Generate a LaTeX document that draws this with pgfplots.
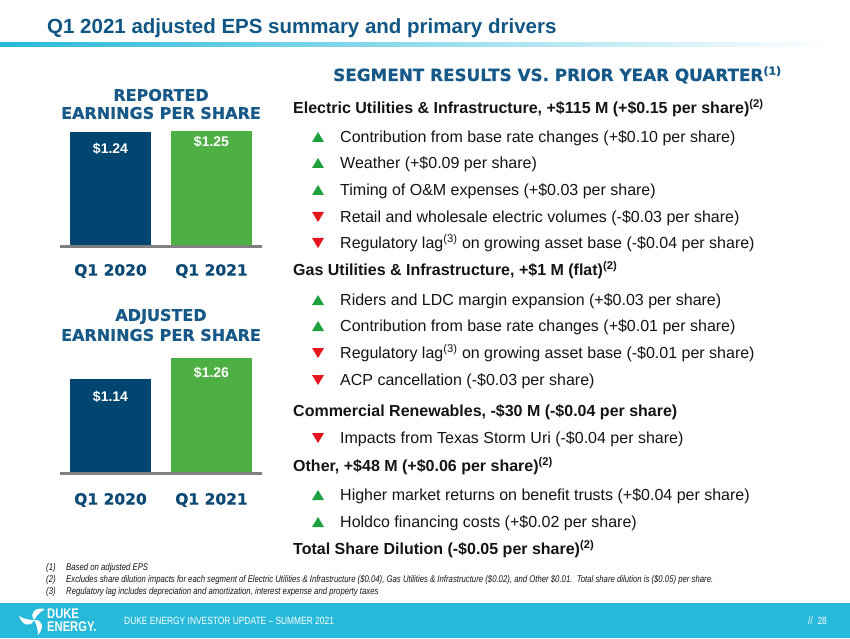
\documentclass[border=0pt]{standalone}
\usepackage{fontspec}
\setmainfont{Liberation Sans}
\newfontfamily\heavy[BoldFeatures={FakeBold=0.6}]{DejaVu Sans}
\newfontfamily\narrow[FakeStretch=0.8]{Liberation Sans}
\usepackage{pgfplots}
\pgfplotsset{compat=1.18}

\definecolor{titleblue}{RGB}{16,86,132}
\definecolor{hdrblue}{RGB}{22,88,136}
\definecolor{catblue}{RGB}{12,74,117}
\definecolor{barblue}{RGB}{0,70,112}
\definecolor{bargreen}{RGB}{78,176,68}
\definecolor{cyanband}{RGB}{38,185,218}
\definecolor{upgreen}{RGB}{30,160,60}
\definecolor{downred}{RGB}{230,20,30}
\definecolor{basegray}{RGB}{128,128,128}
\definecolor{body}{RGB}{20,20,20}

% py = pixel row of the text centre, counted from the top
\newcommand\hd[2]{\node[anchor=base west, inner sep=0, text=body,
  font=\bfseries\fontsize{16}{19}\selectfont] at (293,{638-#1-5.7}) {#2};}
\newcommand\bl[2]{\node[anchor=base west, inner sep=0, text=body,
  font=\fontsize{16}{19}\selectfont] at (340,{638-#1-5.7}) {#2};}
\newcommand\up[1]{\fill[upgreen] (312,{638-#1-5}) -- (324,{638-#1-5}) -- (318,{638-#1+5}) -- cycle;}
\newcommand\dn[1]{\fill[downred] (312,{638-#1+5}) -- (324,{638-#1+5}) -- (318,{638-#1-5}) -- cycle;}
\newcommand\fn[1]{\textsuperscript{(#1)}}

\pgfplotsset{
  eps/.style={
    scale only axis, anchor=south west, width=202pt,
    xmin=-0.5, xmax=1.5, ybar, bar width=81pt, bar shift=0pt,
    hide axis, clip=false},
}
\tikzset{
  val/.style={text=white, font=\bfseries\fontsize{14}{14}\selectfont},
  cat/.style={text=catblue, font=\heavy\bfseries\fontsize{15.5}{18}\selectfont},
}

\begin{document}
\begin{tikzpicture}[x=1pt, y=1pt]
\path[use as bounding box] (0,0) rectangle (850,638);
\fill[white] (0,0) rectangle (850,638);

% title and rule
\node[anchor=base west, inner sep=0, text=titleblue,
  font=\bfseries\fontsize{20.5}{24}\selectfont] at (47,604)
  {Q1 2021 adjusted EPS summary and primary drivers};
\shade[left color=cyanband, middle color=cyanband!45, right color=white]
  (0,591) rectangle (830,595);

% reported EPS
\node[align=center, text=hdrblue, font=\heavy\bfseries\fontsize{16}{18}\selectfont]
  at (161,534) {REPORTED\\EARNINGS PER SHARE};
\begin{axis}[eps, at={(60pt,392pt)}, height=128.8pt, ymin=0, ymax=1.4]
\addplot[fill=barblue, draw=none] coordinates {(0,1.24)};
\addplot[fill=bargreen, draw=none] coordinates {(1,1.25)};
\draw[basegray, line width=3pt] (rel axis cs:0,0) -- (rel axis cs:1,0);
\node[val] at (axis cs:0,1.24) [yshift=-17pt] {\$1.24};
\node[val] at (axis cs:1,1.25) [yshift=-11pt] {\$1.25};
\node[cat] at (axis cs:0,0) [yshift=-25pt] {Q1 2020};
\node[cat] at (axis cs:1,0) [yshift=-25pt] {Q1 2021};
\end{axis}

% adjusted EPS
\node[align=center, text=hdrblue, font=\heavy\bfseries\fontsize{16}{20}\selectfont]
  at (161,313) {ADJUSTED\\EARNINGS PER SHARE};
\begin{axis}[eps, at={(60pt,165pt)}, height=129.5pt, ymin=0.6, ymax=1.34]
\addplot[fill=barblue, draw=none] coordinates {(0,1.14)};
\addplot[fill=bargreen, draw=none] coordinates {(1,1.26)};
\draw[basegray, line width=3pt] (rel axis cs:0,0) -- (rel axis cs:1,0);
\node[val] at (axis cs:0,1.14) [yshift=-18pt] {\$1.14};
\node[val] at (axis cs:1,1.26) [yshift=-15pt] {\$1.26};
\node[cat] at (axis cs:0,0.6) [yshift=-27pt] {Q1 2020};
\node[cat] at (axis cs:1,0.6) [yshift=-27pt] {Q1 2021};
\end{axis}

% segment results
\node[anchor=base west, inner sep=0, text=hdrblue,
  font=\heavy\bfseries\fontsize{16.8}{18}\selectfont] at (333,{638-75-6})
  {SEGMENT RESULTS VS. PRIOR YEAR QUARTER\textsuperscript{\fontsize{11}{11}\selectfont(1)}};

\hd{108}{Electric Utilities \& Infrastructure, +\$115 M (+\$0.15 per share)\fn{2}}
\up{137}\bl{137}{Contribution from base rate changes (+\$0.10 per share)}
\up{163}\bl{163}{Weather (+\$0.09 per share)}
\up{190}\bl{190}{Timing of O\&M expenses (+\$0.03 per share)}
\dn{217}\bl{217}{Retail and wholesale electric volumes (-\$0.03 per share)}
\dn{243}\bl{243}{Regulatory lag\fn{3} on growing asset base (-\$0.04 per share)}
\hd{270}{Gas Utilities \& Infrastructure, +\$1 M (flat)\fn{2}}
\up{300}\bl{300}{Riders and LDC margin expansion (+\$0.03 per share)}
\up{326}\bl{326}{Contribution from base rate changes (+\$0.01 per share)}
\dn{353}\bl{353}{Regulatory lag\fn{3} on growing asset base (-\$0.01 per share)}
\dn{380}\bl{380}{ACP cancellation (-\$0.03 per share)}
\hd{411}{Commercial Renewables, -\$30 M (-\$0.04 per share)}
\dn{438}\bl{438}{Impacts from Texas Storm Uri (-\$0.04 per share)}
\hd{466}{Other, +\$48 M (+\$0.06 per share)\fn{2}}
\up{495}\bl{495}{Higher market returns on benefit trusts (+\$0.04 per share)}
\up{522}\bl{522}{Holdco financing costs (+\$0.02 per share)}
\hd{549}{Total Share Dilution (-\$0.05 per share)\fn{2}}

% footnotes
\begin{scope}[every node/.style={anchor=base west, inner sep=0, text=body,
  font=\narrow\itshape\fontsize{9.7}{10}\selectfont}]
\node at (46,{638-567-3.5}) {(1)};
\node at (66,{638-567-3.5}) {Based on adjusted EPS};
\node at (46,{638-579-3.5}) {(2)};
\node at (66,{638-579-3.5}) {Excludes share dilution impacts for each segment of Electric Utilities \& Infrastructure (\$0.04), Gas Utilities \& Infrastructure (\$0.02), and Other \$0.01.\ \ Total share dilution is (\$0.05) per share.};
\node at (46,{638-591-3.5}) {(3)};
\node at (66,{638-591-3.5}) {Regulatory lag includes depreciation and amortization, interest expense and property taxes};
\end{scope}

% footer
\fill[cyanband] (0,0) rectangle (850,35);
\foreach \a in {0,120,240}
  \fill[white, rotate around={\a:(34,18)}] (34,18) .. controls (29,25) and (35,31) .. (45,29)
    .. controls (40,26) and (37,23) .. (34,18);
\node[anchor=base west, inner sep=0, text=white, font=\narrow\bfseries\fontsize{14}{14}\selectfont]
  at (47,{638-618}) {DUKE};
\node[anchor=base west, inner sep=0, text=white, font=\narrow\bfseries\fontsize{14}{14}\selectfont]
  at (47,{638-631}) {ENERGY.};
\node[anchor=base west, inner sep=0, text=white, font=\narrow\fontsize{10.5}{11}\selectfont]
  at (124,{638-624}) {DUKE ENERGY INVESTOR UPDATE – SUMMER 2021};
\node[anchor=base west, inner sep=0, text=white, font=\narrow\fontsize{10.5}{11}\selectfont]
  at (808,{638-624}) {//\ \ 28};
\end{tikzpicture}
\end{document}
